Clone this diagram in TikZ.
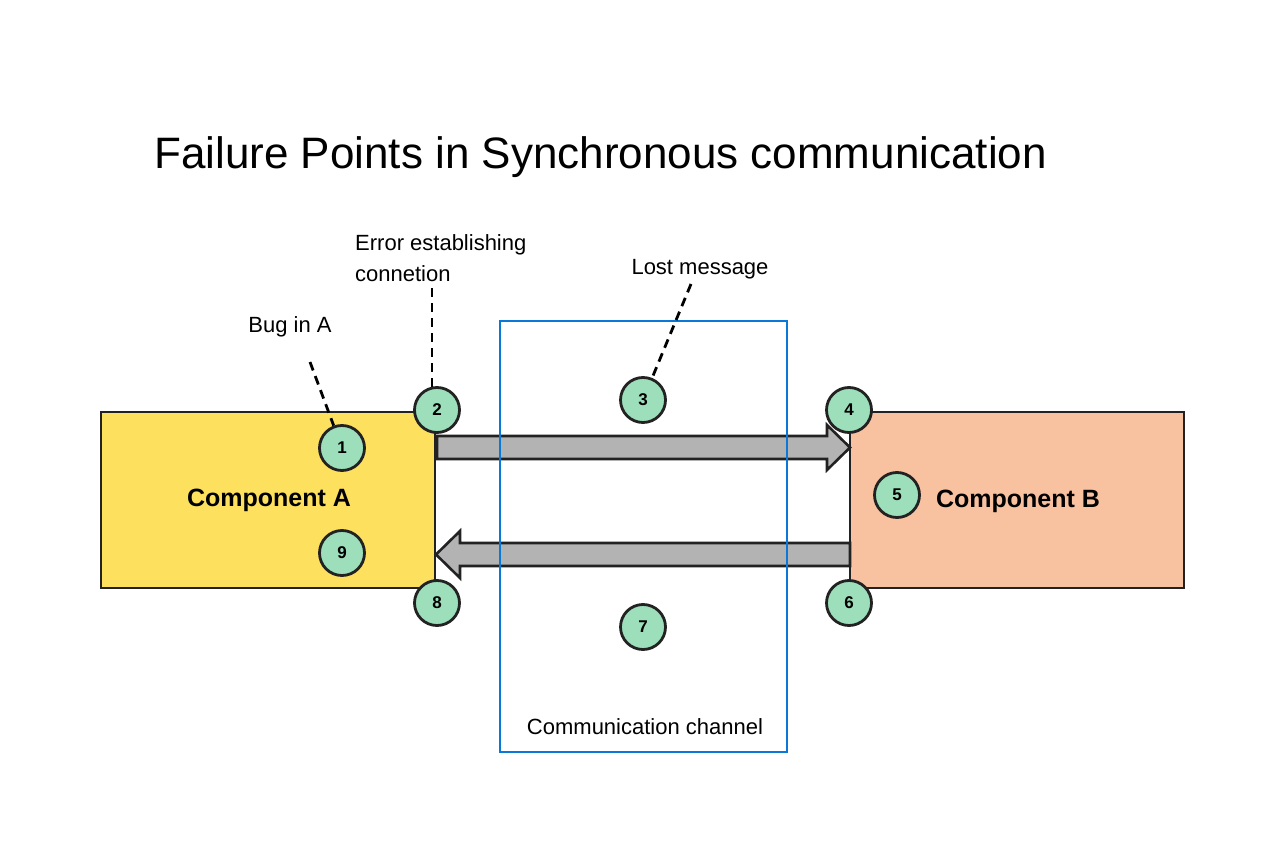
\documentclass[tikz,border=0pt]{standalone}
\usepackage{fontspec}
\setmainfont{Liberation Sans}
\usetikzlibrary{calc}
\definecolor{compA}{HTML}{FDE05E}
\definecolor{compB}{HTML}{F8C1A0}
\definecolor{mark}{HTML}{9CDFBA}
\definecolor{chan}{HTML}{0A78D7}
\definecolor{arr}{HTML}{B3B3B3}
\definecolor{edge}{HTML}{222222}
\tikzset{
  comp/.style={draw=edge, line width=2pt, minimum width=334pt, minimum height=176pt, inner sep=0pt},
  ctext/.style={font=\bfseries\fontsize{25}{30}\selectfont, inner sep=0pt},
  num/.style={circle, draw=edge, line width=2.8pt, fill=mark, minimum size=45pt, inner sep=0pt, font=\bfseries\fontsize{17}{20}\selectfont},
  flow/.style={draw=edge, line width=2.6pt, fill=arr, line join=miter},
  lbl/.style={font=\fontsize{22}{31}\selectfont, align=left, inner sep=0pt},
  lead/.style={draw=black, line width=2.8pt, dash pattern=on 9pt off 6pt},
}
\begin{document}
\begin{tikzpicture}[x=1pt,y=-1pt]
\useasboundingbox (0,0) rectangle (1285,853);
\node[anchor=base west, font=\fontsize{44}{52}\selectfont, inner sep=0pt] (title) at (154,169) {Failure Points in Synchronous communication};
\node[comp, fill=compA] (A) at (268,500) {};
\node[comp, fill=compB] (B) at (1017,500) {};
\node[ctext] (Atxt) at (269,500) {Component A};
\node[ctext] (Btxt) at (1018,501) {Component B};
% arrows
\path[flow] (437,436) -- (827,436) -- (827,425) -- (850,447.5) -- (827,470) -- (827,459) -- (437,459) -- cycle;
\path[flow] (850,543) -- (460,543) -- (460,531) -- (436,554.5) -- (460,578) -- (460,566) -- (850,566) -- cycle;
% channel
\node[draw=chan, line width=2pt, minimum width=287pt, minimum height=431pt, inner sep=0pt] (ch) at (643.5,536.5) {};
\node[lbl, anchor=center] (chtxt) at (645,727) {Communication channel};
% labels
\node[lbl, anchor=center] (bug) at (290,327) {Bug in A};
\node[lbl, anchor=base west] (err) at (355,281) {Error establishing\\connetion};
\node[lbl, anchor=center] (lost) at (700,269) {Lost message};
% circles
\node[num] (n1) at (342,448) {1};
\node[num] (n2) at (437,410) {2};
\node[num] (n3) at (643,400) {3};
\node[num] (n4) at (849,410) {4};
\node[num] (n5) at (897,495) {5};
\node[num] (n6) at (849,603) {6};
\node[num] (n7) at (643,627) {7};
\node[num] (n8) at (437,603) {8};
\node[num] (n9) at (342,553) {9};
% leader lines
\coordinate (c1) at (310,362);
\coordinate (c2) at (432,288);
\coordinate (c3) at (691,284);
\coordinate (e2) at (432,388);
\draw[lead] (c1) -- (n1);
\draw[lead] (c2) -- (e2);
\draw[lead] (c3) -- (n3);
\end{tikzpicture}
\end{document}
